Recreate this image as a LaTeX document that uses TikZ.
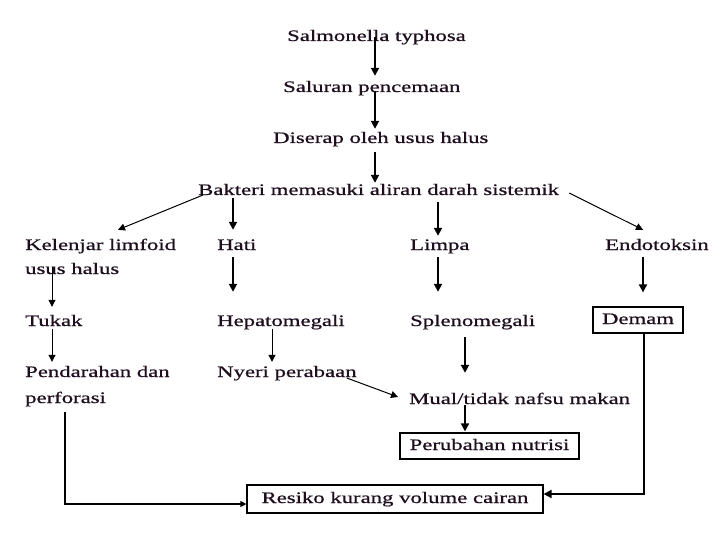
\documentclass[tikz,border=0pt]{standalone}
\usepackage{fontspec}
\setmainfont{Liberation Serif}[FakeStretch=1.42,FakeBold=0.7]
\usetikzlibrary{arrows.meta}
\definecolor{txt}{HTML}{1E0E1E}
\begin{document}
\begin{tikzpicture}[x=1pt,y=-1pt,
  lbl/.style={inner sep=0pt, text height=11pt, text depth=3pt, anchor=base west, font=\fontsize{16}{18}\selectfont, text=txt},
  boxed/.style={draw, line width=1.2pt, inner sep=0pt, text height=11pt, text depth=3pt, font=\fontsize{16}{18}\selectfont, text=txt},
  thk/.style={line width=1.8pt, -{Triangle[length=8pt,width=8pt]}},
  thn/.style={line width=1pt, -{Triangle[length=7pt,width=7pt]}}]
\useasboundingbox (0,0) rectangle (720,540);
\fill[white] (0,0) rectangle (720,540);

\node[lbl] (salm) at (287,41) {Salmonella typhosa};
\node[lbl] (salu) at (283,92) {Saluran pencemaan};
\node[lbl] (dis) at (273,143) {Diserap oleh usus halus};
\node[lbl] (bak) at (198,195) {Bakteri memasuki aliran darah sistemik};
\node[lbl] (kel) at (25,250) {Kelenjar limfoid};
\node[lbl] (kel2) at (25,274) {usus halus};
\node[lbl] (hati) at (217,250) {Hati};
\node[lbl] (limpa) at (410,250) {Limpa};
\node[lbl] (endo) at (605,250) {Endotoksin};
\node[lbl] (tukak) at (25,326) {Tukak};
\node[lbl] (hep) at (217,326) {Hepatomegali};
\node[lbl] (splen) at (410,326) {Splenomegali};
\node[boxed, minimum width=90pt, minimum height=26pt] (demam) at (638,320) {Demam};
\node[lbl] (pend) at (25,377) {Pendarahan dan};
\node[lbl] (perf) at (25,403) {perforasi};
\node[lbl] (nyeri) at (217,377) {Nyeri perabaan};
\node[lbl] (mual) at (409,404) {Mual/tidak nafsu makan};
\node[boxed, minimum width=179pt, minimum height=26pt] (perub) at (489.5,446) {Perubahan nutrisi};
\node[boxed, minimum width=296pt, minimum height=28pt] (resiko) at (395,499) {Resiko kurang volume cairan};

\draw[thk] ([yshift=7pt]salm.south -| 375,0) -- ([yshift=5pt]salu.north -| 375,0);
\draw[thk] ([yshift=4pt]salu.south -| 375,0) -- ([yshift=3pt]dis.north -| 375,0);
\draw[thk] ([yshift=-6pt]dis.south -| 375,0) -- ([yshift=1pt]bak.north -| 375,0);
\draw[thn] ([xshift=5pt]bak.base west) -- ([xshift=93pt,yshift=9pt]kel.north west);
\draw[thk] (bak.south -| 233,0) -- ([yshift=9pt]hati.north -| 233,0);
\draw[thk] ([yshift=-4pt]bak.south -| 438,0) -- ([yshift=3pt]limpa.north -| 438,0);
\draw[thn] ([xshift=10pt,yshift=2pt]bak.base east) -- ([yshift=9pt]endo.north -| 643,0);
\draw[thn] ([yshift=7pt]kel2.base -| 52,0) -- ([yshift=8pt]tukak.north -| 52,0);
\draw[thk] ([yshift=-4pt]hati.south -| 233,0) -- ([yshift=23pt]hep.north -| 233,0);
\draw[thk] ([yshift=-4pt]limpa.south -| 438,0) -- ([yshift=23pt]splen.north -| 438,0);
\draw[thk] ([yshift=-4pt]endo.south -| 643,0) -- ([yshift=14pt]demam.north -| 643,0);
\draw[thn] (tukak.south -| 52,0) -- ([yshift=4pt]pend.north -| 52,0);
\draw[thn] (hep.south -| 272,0) -- ([yshift=4pt]nyeri.north -| 272,0);
\draw[thk] ([yshift=-8pt]splen.south -| 465,0) -- ([yshift=20pt]mual.north -| 465,0);
\draw[thn] ([xshift=-10pt,yshift=-1pt]nyeri.base east) -- ([xshift=-11pt,yshift=7pt]mual.base west);
\draw[thk] ([yshift=2pt]mual.south -| 465,0) -- ([yshift=1pt]perub.north -| 465,0);
\draw[line width=1.3pt, -{Triangle[length=6pt,width=6pt]}] ([yshift=-6pt]perf.south -| 65,0) |- ([yshift=-5pt]resiko.west);
\draw[thk] (demam.south -| 644,0) |- ([yshift=5pt]resiko.east);
\end{tikzpicture}
\end{document}
